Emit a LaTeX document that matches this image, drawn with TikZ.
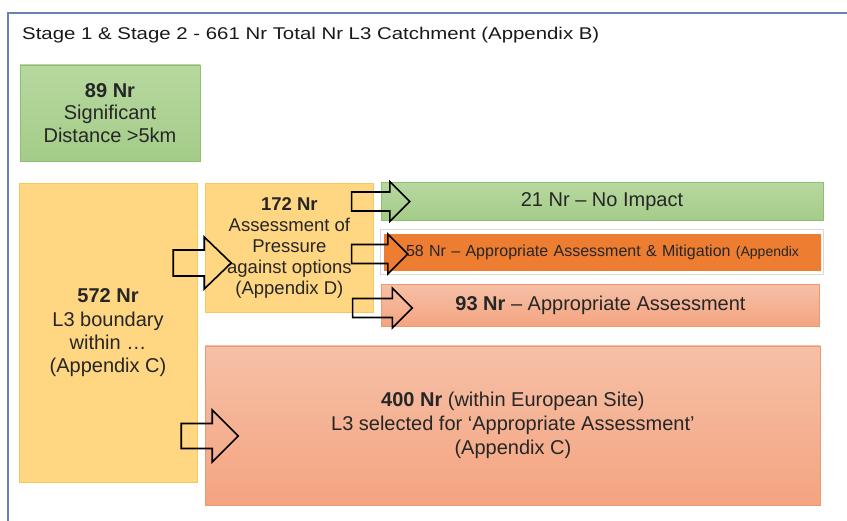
\documentclass[tikz,border=0pt]{standalone}
\usepackage{fontspec}
\setmainfont{Liberation Sans}
\newfontfamily\titlefont[FakeStretch=1.2]{Liberation Sans}
\usepackage{tikz}
\usetikzlibrary{positioning, calc}

\definecolor{frameblue}{RGB}{104,130,178}
\definecolor{greentop}{RGB}{183,216,160}
\definecolor{greenbot}{RGB}{164,204,136}
\definecolor{greenline}{RGB}{143,190,110}
\definecolor{yellowfill}{RGB}{255,214,130}
\definecolor{yellowline}{RGB}{245,200,90}
\definecolor{orangefill}{RGB}{237,125,49}
\definecolor{salmontop}{RGB}{246,192,167}
\definecolor{salmonbot}{RGB}{244,164,128}
\definecolor{salmonline}{RGB}{238,152,112}
\definecolor{textgrey}{RGB}{38,38,38}

% outlined block arrow: start, tip, half shaft, half head, head length
\newcommand{\blockarrow}[5]{%
  \draw[blockarrow] ($(#1)+(0,-#3)$) -- ($(#2)+(-#5,-#3)$) -- ($(#2)+(-#5,-#4)$) -- (#2)
    -- ($(#2)+(-#5,#4)$) -- ($(#2)+(-#5,#3)$) -- ($(#1)+(0,#3)$) -- cycle;}

\begin{document}
\begin{tikzpicture}[
  x=1pt, y=-1pt,
  every node/.style={text=textgrey},
  box/.style={rectangle, inner sep=2pt, align=center, font=\fontsize{20}{22.5}\selectfont},
  greenbox/.style={box, draw=greenline, top color=greentop, bottom color=greenbot},
  yellowbox/.style={box, draw=yellowline, fill=yellowfill},
  orangebox/.style={box, draw=orangefill, fill=orangefill},
  salmonbox/.style={box, draw=salmonline, top color=salmontop, bottom color=salmonbot},
  mitigframe/.style={draw=black!15, line width=1pt},
  blockarrow/.style={draw=black, line width=1.6pt, line join=miter},
]
  \useasboundingbox (0,0) rectangle (847,521);

  % Frame and title
  \draw[frameblue, line width=2pt] (8,540) -- (8,13) -- (870,13);
  \node (title) [anchor=west, inner sep=0pt, text=black!90, font=\titlefont\fontsize{17}{20}\selectfont] at (22,35) {Stage 1 \& Stage 2 - 661 Nr Total Nr L3 Catchment (Appendix B)};

  % Left column
  \node (distance) [greenbox, minimum width=180pt, minimum height=96pt] at (110,113) {\textbf{89 Nr}\\Significant\\Distance >5km};
  \node (boundary) [yellowbox, minimum width=178pt, minimum height=299pt, below=22pt of distance, xshift=-2pt, font=\fontsize{20}{23.3}\selectfont] {\textbf{572 Nr}\\L3 boundary\\within …\\(Appendix C)};

  % Middle box
  \node (pressure) [yellowbox, minimum width=168pt, minimum height=129pt, anchor=north west, font=\fontsize{18.5}{21.2}\selectfont] at ([xshift=8pt]boundary.north east) {\textbf{172 Nr}\\Assessment of\\Pressure\\against options\\(Appendix D)};

  % Outcomes
  \node (noimpact) [greenbox, minimum width=442pt, minimum height=38pt] at (602,201.5) {21 Nr – No Impact};
  \begin{scope}
    \clip (384,234) rectangle (821,271);
    \node (mitig) [orangebox, minimum width=437pt, minimum height=37pt, text width=430pt, text height=12pt, text depth=4pt, font=\fontsize{16}{25}\selectfont] at (602.5,252.5) {58 Nr – Appropriate Assessment \& Mitigation {\fontsize{14}{25}\selectfont (Appendix}\\{\fontsize{14}{25}\selectfont D)}};
  \end{scope}
  \draw[mitigframe] ([shift={(-3,-4)}]mitig.north west) rectangle ([shift={(2,3)}]mitig.south east);
  \node (assess) [salmonbox, minimum width=438pt, minimum height=42pt, below=13pt of mitig, xshift=-2pt] {\textbf{93 Nr} – Appropriate Assessment};
  \node (european) [salmonbox, minimum width=615pt, minimum height=159pt, anchor=north west, font=\fontsize{20}{24}\selectfont] at ([yshift=-33pt]pressure.south west) {\textbf{400 Nr} (within European Site)\\L3 selected for ‘Appropriate Assessment’\\(Appendix C)};

  % Arrow ends
  \coordinate (s1) at ([xshift=-24pt]boundary.east |- 0,263);
  \coordinate (t1) at ([xshift=26pt]pressure.west |- 0,263);
  \coordinate (s2) at ([xshift=-22pt]pressure.east |- noimpact.west);
  \coordinate (t2) at ([xshift=29pt]noimpact.west);
  \coordinate (s3) at ([xshift=-22pt]pressure.east |- 0,254);
  \coordinate (t3) at ([xshift=24pt]mitig.west |- 0,254);
  \coordinate (s4) at ([xshift=-21pt]pressure.east |- 0,308);
  \coordinate (t4) at ([xshift=31pt]assess.west |- 0,308);
  \coordinate (s5) at ([xshift=-16pt]boundary.east |- 0,436);
  \coordinate (t5) at ([xshift=33pt]european.west |- 0,436);

  % Block arrows
  \foreach \n/\shaft/\head/\len in {1/13/26/27, 2/9.5/20/20, 3/9.5/20/20, 4/9.5/20/20, 5/12.5/26/26} {
    \blockarrow{s\n}{t\n}{\shaft}{\head}{\len}
  }

\end{tikzpicture}
\end{document}
